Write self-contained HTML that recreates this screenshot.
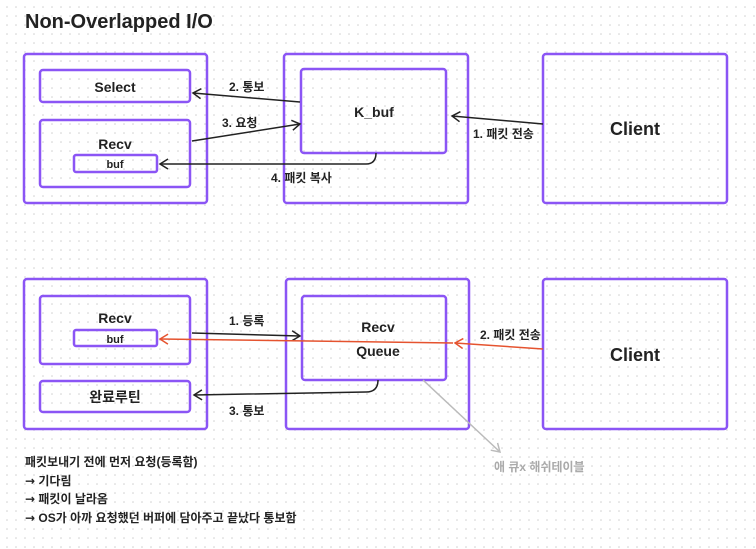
<!DOCTYPE html>
<html><head><meta charset="utf-8"><style>
html,body{margin:0;padding:0;background:#fff;}
svg{display:block;}
text{font-family:"Liberation Sans","Noto Sans CJK KR",sans-serif;fill:#222;}
tspan.ar{font-family:"DejaVu Sans",sans-serif;}
</style></head><body>
<svg width="756" height="549" viewBox="0 0 756 549" xmlns="http://www.w3.org/2000/svg">
<defs>
<pattern id="dots" width="9" height="9" patternUnits="userSpaceOnUse"><circle cx="7" cy="7" r="0.8" fill="#d0d0d0"/></pattern>
<marker id="ah" markerWidth="12" markerHeight="12" refX="10" refY="6" orient="auto" markerUnits="userSpaceOnUse"><path d="M2,1 L10,6 L2,11" fill="none" stroke="#222" stroke-width="1.5"/></marker>
<marker id="ahr" markerWidth="12" markerHeight="12" refX="10" refY="6" orient="auto" markerUnits="userSpaceOnUse"><path d="M2,1 L10,6 L2,11" fill="none" stroke="#e5532f" stroke-width="1.5"/></marker>
<marker id="ahg" markerWidth="12" markerHeight="12" refX="10" refY="6" orient="auto" markerUnits="userSpaceOnUse"><path d="M2,1 L10,6 L2,11" fill="none" stroke="#bbb" stroke-width="1.5"/></marker>
</defs>
<rect width="756" height="549" fill="url(#dots)"/>
<text x="25" y="28" font-size="20" font-weight="bold">Non-Overlapped I/O</text>
<g fill="none" stroke="#8b55f5" stroke-width="2.5">
<rect x="24" y="54" width="183" height="149" rx="3"/>
<rect x="40" y="70" width="150" height="32" rx="3"/>
<rect x="40" y="120" width="150" height="67" rx="3"/>
<rect x="74" y="155" width="83" height="17" rx="2"/>
<rect x="284" y="54" width="184" height="149" rx="3"/>
<rect x="301" y="69" width="145" height="84" rx="3"/>
<rect x="543" y="54" width="184" height="149" rx="3"/>
<rect x="24" y="279" width="183" height="150" rx="3"/>
<rect x="40" y="296" width="150" height="68" rx="3"/>
<rect x="74" y="330" width="83" height="16" rx="2"/>
<rect x="40" y="381" width="150" height="31" rx="3"/>
<rect x="286" y="279" width="183" height="150" rx="3"/>
<rect x="302" y="296" width="144" height="84" rx="3"/>
<rect x="543" y="279" width="184" height="150" rx="3"/>
</g>
<g font-weight="bold" text-anchor="middle">
<text x="115" y="92" font-size="14">Select</text>
<text x="115" y="149" font-size="14">Recv</text>
<text x="115" y="168" font-size="11">buf</text>
<text x="374" y="117" font-size="14">K_buf</text>
<text x="635" y="135" font-size="18">Client</text>
<text x="115" y="323" font-size="14">Recv</text>
<text x="115" y="343" font-size="11">buf</text>
<text x="115" y="402" font-size="14">완료루틴</text>
<text x="378" y="332" font-size="14">Recv</text>
<text x="378" y="356" font-size="14">Queue</text>
<text x="635" y="361" font-size="18">Client</text>
</g>
<g fill="none" stroke="#222" stroke-width="1.5">
<path d="M300,102 L193,93" marker-end="url(#ah)"/>
<path d="M192,141 L300,124" marker-end="url(#ah)"/>
<path d="M543,124 L452,116" marker-end="url(#ah)"/>
<path d="M376,153 Q376,164 366,164 L160,164" marker-end="url(#ah)"/>
<path d="M192,333 L300,336" marker-end="url(#ah)"/>
<path d="M378,380 Q378,392 366,392 L194,395" marker-end="url(#ah)"/>
</g>
<path d="M543,349 L455,343" fill="none" stroke="#e5532f" stroke-width="1.5" marker-end="url(#ahr)"/>
<path d="M453,343 L160,339" fill="none" stroke="#e5532f" stroke-width="1.5" marker-end="url(#ahr)"/>
<path d="M423,380 L500,452" fill="none" stroke="#bbb" stroke-width="1.5" marker-end="url(#ahg)"/>
<g font-size="12" font-weight="bold">
<text x="229" y="91">2. 통보</text>
<text x="222" y="127">3. 요청</text>
<text x="473" y="138">1. 패킷 전송</text>
<text x="271" y="182">4. 패킷 복사</text>
<text x="229" y="325">1. 등록</text>
<text x="480" y="339">2. 패킷 전송</text>
<text x="229" y="415">3. 통보</text>
<text x="494" y="471" style="fill:#aaa">애 큐x 해쉬테이블</text>
</g>
<g font-size="12" font-weight="bold">
<text x="25" y="466">패킷보내기 전에 먼저 요청(등록함)</text>
<text x="25" y="485"><tspan class="ar">→</tspan> 기다림</text>
<text x="25" y="503"><tspan class="ar">→</tspan> 패킷이 날라옴</text>
<text x="25" y="522"><tspan class="ar">→</tspan> OS가 아까 요청했던 버퍼에 담아주고 끝났다 통보함</text>
</g>
</svg>
</body></html>
